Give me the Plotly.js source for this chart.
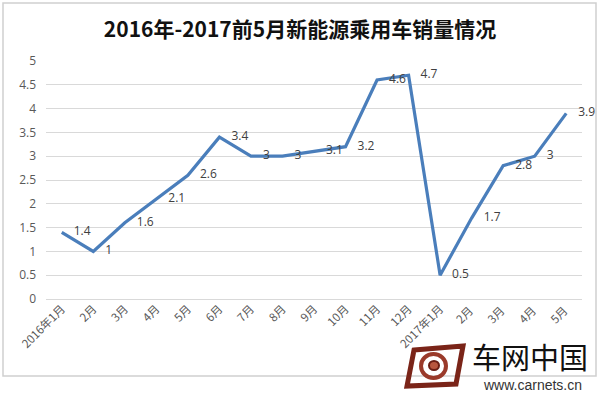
<!DOCTYPE html>
<html>
<head>
<meta charset="utf-8">
<script src="https://cdn.plot.ly/plotly-3.0.1.min.js"></script>
<style>
html,body{margin:0;padding:0;background:#fff;}
#chart{width:600px;height:396px;}
</style>
</head>
<body>
<div id="chart"></div>
<script>
const categories = ["2016年1月","2月","3月","4月","5月","6月","7月","8月","9月","10月","11月","12月","2017年1月","2月 ","3月 ","4月 ","5月 "];
const sales = [1.4, 1, 1.6, 2.1, 2.6, 3.4, 3, 3, 3.1, 3.2, 4.6, 4.7, 0.5, 1.7, 2.8, 3, 3.9];
const yTicks = [0, 0.5, 1, 1.5, 2, 2.5, 3, 3.5, 4, 4.5, 5];

// layout geometry helpers (pixel -> paper)
const M = {l:46, r:18, t:61, b:97};
const W = 600, H = 396;
const pw = W - M.l - M.r, ph = H - M.t - M.b;
const px = x => (x - M.l) / pw;
const py = y => (H - M.b - y) / ph;

const trace = {
  x: categories,
  y: sales,
  type: 'scatter',
  mode: 'lines+text',
  line: {color: '#4A7EBB', width: 3.2},
  text: sales.map(v => '\u2002\u2002' + String(v)),
  textposition: 'middle right',
  textfont: {family: 'Open Sans, Liberation Sans, sans-serif', size: 12, color: '#404040'},
  cliponaxis: false,
  hoverinfo: 'skip'
};

const layout = {
  width: W, height: H,
  margin: M,
  paper_bgcolor: '#fff',
  plot_bgcolor: '#fff',
  showlegend: false,
  title: {
    text: '<b>2016年-2017前5月新能源乘用车销量情况</b>',
    font: {family: 'Noto Sans CJK SC, sans-serif', size: 21, color: '#111'},
    x: 0.5, xanchor: 'center', y: 0.925, yanchor: 'middle'
  },
  xaxis: {
    type: 'category',
    range: [-0.5, 16.5],
    tickangle: -45,
    tickfont: {family: 'Noto Sans CJK SC, sans-serif', size: 11.5, color: '#595959'},
    showgrid: false,
    showline: false,
    zeroline: false,
    ticks: '',
    fixedrange: true
  },
  yaxis: {
    range: [0, 5],
    tickvals: yTicks,
    ticktext: yTicks.map(String),
    tickfont: {family: 'Open Sans, Liberation Sans, sans-serif', size: 12, color: '#595959'},
    ticklabelstandoff: 9,
    gridcolor: '#d9d9d9',
    gridwidth: 1,
    zeroline: true,
    zerolinecolor: '#d9d9d9',
    zerolinewidth: 1,
    showline: false,
    ticks: '',
    ticklen: 0,
    fixedrange: true
  },
  shapes: [
    {type:'rect', xref:'paper', yref:'paper', x0:px(3), x1:px(596), y0:py(376), y1:py(3),
     line:{color:'#d0d0d0', width:1.5}, fillcolor:'rgba(0,0,0,0)', layer:'below'},
    // logo emblem (approximation)
    {type:'path', xref:'paper', yref:'paper',
     path: 'M '+px(414)+' '+py(350)+' L '+px(463)+' '+py(346)+' L '+px(456)+' '+py(384)+' L '+px(407)+' '+py(386)+' Z',
     line:{color:'#7a2418', width:5}, fillcolor:'rgba(0,0,0,0)'},
    {type:'circle', xref:'paper', yref:'paper', x0:px(421), x1:px(446), y0:py(378), y1:py(354),
     line:{color:'#9a3a2a', width:4}, fillcolor:'rgba(0,0,0,0)'},
    {type:'circle', xref:'paper', yref:'paper', x0:px(429), x1:px(439), y0:py(370), y1:py(361),
     line:{color:'#6b1e14', width:2}, fillcolor:'#b8573f'}
  ],
  annotations: [
    {text:'车网中国', xref:'paper', yref:'paper', x:px(530), y:py(356), xanchor:'center', yanchor:'middle',
     showarrow:false, font:{family:'Noto Sans CJK SC, sans-serif', size:29, color:'#111'}},
    {text:'www.carnets.cn', xref:'paper', yref:'paper', x:px(532), y:py(385), xanchor:'center', yanchor:'middle',
     showarrow:false, font:{family:'Liberation Sans, Arial, sans-serif', size:14, color:'#333'}}
  ]
};

Plotly.newPlot('chart', [trace], layout, {displayModeBar:false, staticPlot:true});
</script>
</body>
</html>
